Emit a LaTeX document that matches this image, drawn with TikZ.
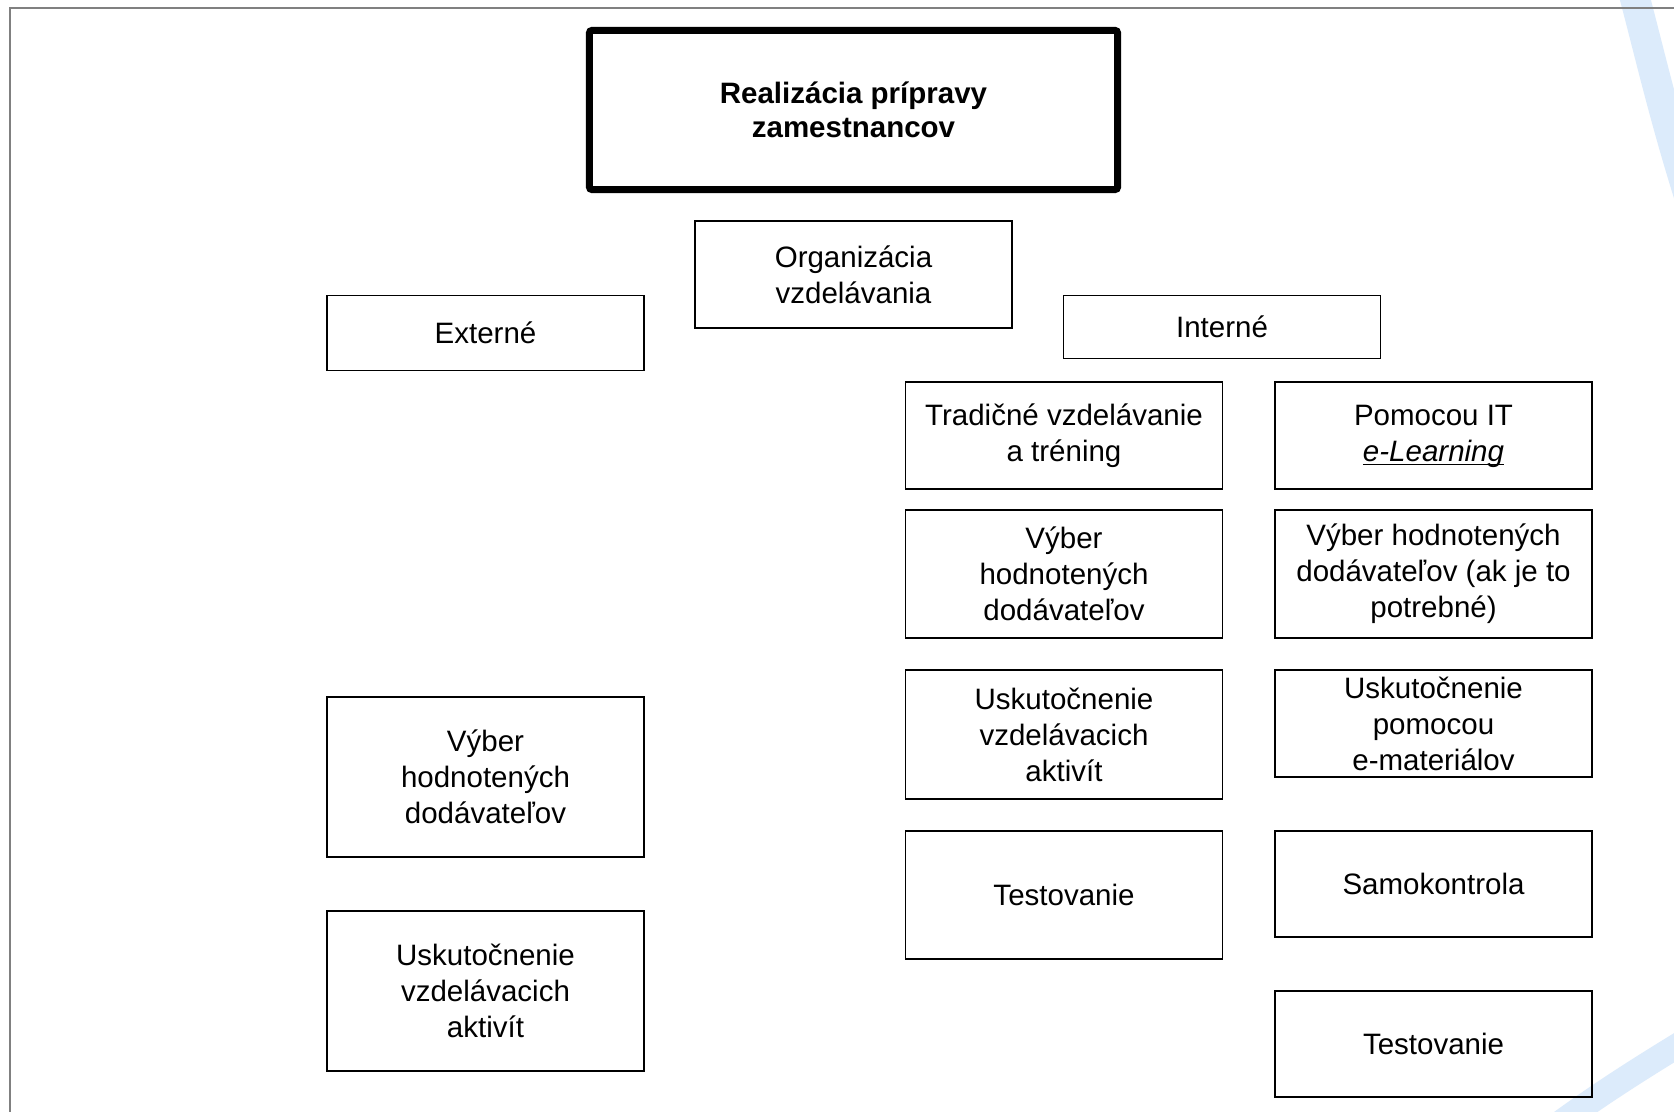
\documentclass[tikz,border=0pt]{standalone}
\usepackage{fontspec}
\setmainfont{Liberation Sans}
\definecolor{arcblue}{HTML}{DCEBFB}
\definecolor{framegray}{HTML}{808080}
\begin{document}
\begin{tikzpicture}[x=0.5pt,y=-0.5pt,
  box/.style={draw=black, line width=0.65pt, minimum width=158.5pt, inner sep=0pt,
    align=center, font=\fontsize{14.75pt}{18pt}\selectfont},
  hgt/.style={minimum height=#1*0.5pt},
  titlebox/.style={draw=black, line width=3.5pt, rounded corners=1.5pt, minimum width=264.2pt,
    minimum height=79.7pt, inner sep=0pt, align=center,
    font=\fontsize{14.75pt}{17pt}\selectfont\bfseries}]
\useasboundingbox (0,0) rectangle (1674,1112);
\fill[white] (0,0) rectangle (1674,1112);
\begin{scope}
  \clip (0,0) rectangle (1674,1112);
  \draw[arcblue, line width=15pt] (1630,-20) .. controls (1648,45) and (1665,125) .. (1700,230);
  \draw[arcblue, line width=12.5pt] (1540,1138) .. controls (1590,1100) and (1640,1068) .. (1710,1026);
  \draw[framegray, line width=1pt] (10,1112) -- (10,8) -- (1674,8);
\end{scope}

\node[titlebox] (title) at (853.5,110) {Realizácia prípravy\\zamestnancov};
\node[box, hgt=107] (org) at (853.5,274.5) {Organizácia\\vzdelávania};
\node[box, hgt=75] (ext) at (485.5,333) {Externé};
\node[box, hgt=63] (int) at (1222,327) {Interné};
\node[box, hgt=107] (trad) at (1064,435.5) {Tradičné vzdelávanie\\a tréning};
\node[box, hgt=107] (it) at (1433.5,435.5) {Pomocou IT\\\underline{\smash{\textit{e-Learning}}}};
\node[box, hgt=128] (vybm) at (1064,574) {Výber\\hodnotených\\dodávateľov};
\node[box, hgt=128] (vybr) at (1433.5,574) {Výber hodnotených\\dodávateľov (ak je to\\potrebné)};
\node[box, hgt=129] (uskm) at (1064,734.5) {Uskutočnenie\\vzdelávacich\\aktivít};
\node[box, hgt=107] (uskr) at (1433.5,723.5) {Uskutočnenie\\pomocou\\e-materiálov};
\node[box, hgt=128] (testm) at (1064,895) {Testovanie};
\node[box, hgt=106] (samo) at (1433.5,884) {Samokontrola};
\node[box, hgt=106] (testr) at (1433.5,1044) {Testovanie};
\node[box, hgt=160] (vybl) at (485.5,777) {Výber\\hodnotených\\dodávateľov};
\node[box, hgt=160] (uskl) at (485.5,991) {Uskutočnenie\\vzdelávacich\\aktivít};
\end{tikzpicture}
\end{document}
